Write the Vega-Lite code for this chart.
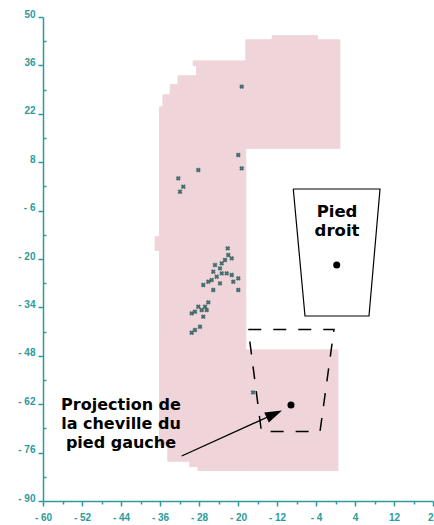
{
  "$schema": "https://vega.github.io/schema/vega-lite/v6.json",
  "width": 390,
  "height": 484,
  "autosize": {"type": "none"},
  "padding": {"left": 43, "top": 17, "right": 1, "bottom": 24},
  "background": "white",
  "config": {"view": {"stroke": null}, "font": "Liberation Sans"},
  "datasets": {
    "shape": [
      {"x": -18.4, "x2": 0.9, "y": 12.0, "y2": 43.4},
      {"x": -13.0, "x2": -3.7, "y": 43.4, "y2": 44.6},
      {"x": -29.2, "x2": -18.4, "y": 36.0, "y2": 37.3},
      {"x": -28.5, "x2": -18.4, "y": 33.0, "y2": 36.0},
      {"x": -32.3, "x2": -18.4, "y": 30.5, "y2": 33.0},
      {"x": -33.9, "x2": -18.4, "y": 27.5, "y2": 30.5},
      {"x": -35.4, "x2": -18.4, "y": 24.0, "y2": 27.5},
      {"x": -36.1, "x2": -18.4, "y": -73.8, "y2": 24.0},
      {"x": -37.0, "x2": -36.1, "y": -17.5, "y2": -13.5},
      {"x": -34.4, "x2": -18.4, "y": -78.5, "y2": -73.8},
      {"x": -29.9, "x2": -18.4, "y": -80.0, "y2": -78.5},
      {"x": -28.2, "x2": 0.5, "y": -81.2, "y2": -80.0},
      {"x": -18.4, "x2": 0.5, "y": -80.0, "y2": -46.3}
    ],
    "marks": [
      {"x": -19.24, "y": 29.84}, {"x": -19.94, "y": 10.08}, {"x": -19.24, "y": 6.23},
      {"x": -28.14, "y": 5.74}, {"x": -32.25, "y": 3.34}, {"x": -31.22, "y": 0.91},
      {"x": -31.9, "y": -0.54}, {"x": -22.11, "y": -16.91}, {"x": -21.99, "y": -18.85},
      {"x": -21.29, "y": -19.8}, {"x": -22.67, "y": -20.29}, {"x": -23.34, "y": -21.25},
      {"x": -24.72, "y": -21.74}, {"x": -23.69, "y": -22.69}, {"x": -25.07, "y": -23.68},
      {"x": -23.34, "y": -24.14}, {"x": -22.32, "y": -24.14}, {"x": -21.29, "y": -24.63},
      {"x": -24.37, "y": -25.12}, {"x": -25.4, "y": -26.08}, {"x": -26.09, "y": -26.57},
      {"x": -27.12, "y": -27.52}, {"x": -19.94, "y": -25.59}, {"x": -20.96, "y": -26.57},
      {"x": -23.69, "y": -27.03}, {"x": -25.07, "y": -28.97}, {"x": -19.94, "y": -28.97},
      {"x": -26.09, "y": -32.53}, {"x": -26.77, "y": -33.8}, {"x": -28.14, "y": -33.8},
      {"x": -27.45, "y": -34.76}, {"x": -26.42, "y": -34.76}, {"x": -28.82, "y": -35.25},
      {"x": -29.5, "y": -35.71}, {"x": -27.12, "y": -36.69}, {"x": -27.79, "y": -39.59},
      {"x": -28.82, "y": -40.54}, {"x": -29.5, "y": -41.32}, {"x": -16.92, "y": -58.6}
    ],
    "traps": [
      {"trap": "droit", "o": 1, "x": -8.66, "y": 0.25},
      {"trap": "droit", "o": 2, "x": 9.13, "y": 0.25},
      {"trap": "droit", "o": 3, "x": 6.87, "y": -36.49},
      {"trap": "droit", "o": 4, "x": -6.26, "y": -36.49},
      {"trap": "droit", "o": 5, "x": -8.66, "y": 0.25},
      {"trap": "gauche", "o": 1, "x": -17.89, "y": -40.4},
      {"trap": "gauche", "o": 2, "x": -0.31, "y": -40.4},
      {"trap": "gauche", "o": 3, "x": -3.18, "y": -69.9},
      {"trap": "gauche", "o": 4, "x": -15.2, "y": -69.9},
      {"trap": "gauche", "o": 5, "x": -17.89, "y": -40.4}
    ],
    "dots": [
      {"x": 0.25, "y": -21.74},
      {"x": -9.13, "y": -62.24}
    ],
    "arrow": [
      {"x": -31.55, "y": -76.99, "x2": -12.56, "y2": -64.84}
    ],
    "head": [
      {"x": -12.56, "y": -64.84}
    ],
    "labels": [
      {"x": 0.31, "y": -7.94, "label": "Pied\ndroit", "size": 16.5},
      {"x": -44.0, "y": -63.68, "label": "Projection de\nla cheville du\npied gauche", "size": 16}
    ]
  },
  "encoding": {
    "x": {
      "field": "x", "type": "quantitative",
      "scale": {"domain": [-60, 20], "nice": false, "zero": false},
      "axis": {
        "title": null, "grid": false,
        "values": [-60,-56,-52,-48,-44,-40,-36,-32,-28,-24,-20,-16,-12,-8,-4,0,4,8,12,16,20],
        "labelExpr": "(datum.value + 60) % 8 == 0 ? (datum.value < 0 ? '- ' + abs(datum.value) : '' + datum.value) : ''",
        "tickSize": {"condition": {"test": "(datum.value + 60) % 8 == 0", "value": 5}, "value": 3},
        "domainColor": "#2e9a9a", "domainWidth": 1.5,
        "tickColor": "#2e9a9a", "tickWidth": 1.5,
        "labelColor": "#2e9a9a", "labelFontSize": 10, "labelFontWeight": "bold",
        "labelPadding": 6, "labelFlush": false, "labelOverlap": false
      }
    },
    "y": {
      "field": "y", "type": "quantitative",
      "scale": {"domain": [-90, 50], "nice": false, "zero": false},
      "axis": {
        "title": null, "grid": false,
        "values": [-90,-83,-76,-69,-62,-55,-48,-41,-34,-27,-20,-13,-6,1,8,15,22,29,36,43,50],
        "labelExpr": "(datum.value + 90) % 14 == 0 ? (datum.value < 0 ? '- ' + abs(datum.value) : '' + datum.value) : ''",
        "tickSize": {"condition": {"test": "(datum.value + 90) % 14 == 0", "value": 5}, "value": -3},
        "domainColor": "#2e9a9a", "domainWidth": 1.5,
        "tickColor": "#2e9a9a", "tickWidth": 1.5,
        "labelColor": "#2e9a9a", "labelFontSize": 10, "labelFontWeight": "bold",
        "labelPadding": 3, "labelOffset": -3, "labelFlush": false, "labelOverlap": false
      }
    }
  },
  "layer": [
    {
      "data": {"name": "shape"},
      "mark": {"type": "rect", "fill": "#efd4d9", "stroke": "#efd4d9", "strokeWidth": 1},
      "encoding": {"x2": {"field": "x2"}, "y2": {"field": "y2"}}
    },
    {
      "data": {"name": "marks"},
      "mark": {"type": "point", "shape": "cross", "angle": 45, "size": 24, "filled": true, "color": "#285a5a", "opacity": 0.85}
    },
    {
      "data": {"name": "traps"},
      "transform": [{"filter": "datum.trap == 'droit'"}],
      "mark": {"type": "line", "color": "black", "strokeWidth": 1.2},
      "encoding": {"order": {"field": "o", "type": "quantitative"}}
    },
    {
      "data": {"name": "traps"},
      "transform": [{"filter": "datum.trap == 'gauche'"}],
      "mark": {"type": "line", "color": "black", "strokeWidth": 1.5, "strokeDash": [13, 12]},
      "encoding": {"order": {"field": "o", "type": "quantitative"}}
    },
    {
      "data": {"name": "dots"},
      "mark": {"type": "point", "shape": "circle", "filled": true, "color": "black", "opacity": 1, "size": 50}
    },
    {
      "data": {"name": "arrow"},
      "mark": {"type": "rule", "color": "black", "strokeWidth": 1.3},
      "encoding": {"x2": {"field": "x2"}, "y2": {"field": "y2"}}
    },
    {
      "data": {"name": "head"},
      "mark": {"type": "point", "shape": "M0,-1L0.65,1L-0.65,1Z", "angle": 65.6, "size": 289, "filled": true, "color": "black", "opacity": 1}
    },
    {
      "data": {"name": "labels"},
      "mark": {"type": "text", "align": "center", "baseline": "alphabetic", "fontWeight": "bold", "font": "DejaVu Sans", "lineBreak": "\n", "lineHeight": 19, "color": "black"},
      "encoding": {
        "text": {"field": "label"},
        "size": {"field": "size", "type": "quantitative", "scale": null}
      }
    },
    {
      "mark": {"type": "rule", "color": "#2e9a9a", "strokeWidth": 1.5},
      "encoding": {"y": {"datum": 50}, "x": {"datum": -60}, "x2": {"datum": 20}}
    }
  ]
}
